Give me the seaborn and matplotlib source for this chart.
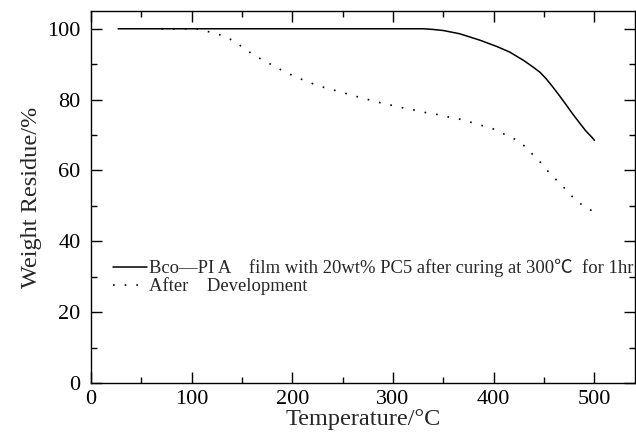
import numpy as np
import pandas as pd
import matplotlib
matplotlib.use('Agg')
import matplotlib.pyplot as plt
from matplotlib.ticker import MultipleLocator
import seaborn as sns

# TGA curves
cured_temp = [27, 100, 200, 300, 330, 340, 350, 366, 386, 403, 416, 430, 439,
              446, 452, 458, 465, 472, 478, 485, 491, 498, 500]
cured_wt = [100, 100, 100, 100, 100, 99.8, 99.5, 98.6, 96.8, 95, 93.4, 91, 89.2,
            87.7, 85.9, 83.8, 81.2, 78.5, 76.1, 73.5, 71.3, 69.2, 68.5]

dev_temp = [70, 105, 115, 126, 137, 148, 158, 168, 179, 190, 201, 212, 223, 234,
            245, 256, 266, 278, 289, 300, 311, 322, 333, 344, 355, 366, 376, 388,
            399, 410, 421, 431, 439, 447, 455, 463, 471, 479, 488, 500]
dev_wt = [100, 100, 99.3, 98.5, 97.3, 95.3, 93.3, 91.6, 89.9, 88.2, 86.7, 85.4,
          84.2, 83.2, 82.4, 81.5, 80.7, 79.8, 79.0, 78.3, 77.6, 77.0, 76.3, 75.8,
          75.1, 74.5, 73.7, 72.7, 71.8, 70.3, 68.8, 66.8, 64.4, 62.1, 59.4, 57.1,
          54.8, 52.3, 50.2, 48.2]

cured_label = 'Bco\u2014PI A    film with 20wt% PC5 after curing at 300\u2103  for 1hr'
dev_label = 'After    Development'

sns.set_style('ticks')
plt.rcParams['font.family'] = ['Liberation Serif', 'Noto Sans CJK SC', 'DejaVu Sans']
plt.rcParams['axes.linewidth'] = 1.0

fig = plt.figure(figsize=(6.36, 4.42), dpi=100)
ax = fig.add_axes([0.143, 0.1335, 0.855, 0.8415])

cured = pd.DataFrame({'temp': cured_temp, 'wt': cured_wt})
dev = pd.DataFrame({'temp': dev_temp, 'wt': dev_wt})

sns.lineplot(data=cured, x='temp', y='wt', color='black', linewidth=1.1,
             label=cured_label, ax=ax)
sns.lineplot(data=dev, x='temp', y='wt', color='black', linewidth=1.2,
             linestyle=(0, (1, 6)), label=dev_label, ax=ax)

ax.set_xlim(0, 540)
ax.set_ylim(0, 105)
ax.xaxis.set_major_locator(MultipleLocator(100))
ax.xaxis.set_minor_locator(MultipleLocator(50))
ax.yaxis.set_major_locator(MultipleLocator(20))
ax.yaxis.set_minor_locator(MultipleLocator(10))
ax.tick_params(which='both', direction='in', top=True, right=True,
               color='black', width=1.0, labelsize=16, labelcolor='black')
ax.tick_params(which='major', length=8)
ax.tick_params(which='minor', length=4.5)
ax.tick_params(axis='x', which='major', pad=5)
ax.tick_params(axis='y', which='major', pad=7.5)
for s in ax.spines.values():
    s.set_color('black')

ax.set_xlabel('Temperature/\u00b0C', fontsize=17.5, labelpad=0)
ax.set_ylabel('Weight Residue/%', fontsize=17.5, labelpad=4)

ax.legend(loc='center left', bbox_to_anchor=(0.04, 0.285), frameon=False,
          fontsize=13.4, handlelength=1.85, handletextpad=0.1, labelspacing=0.02,
          borderpad=0, borderaxespad=0)

fig.savefig('out.png', dpi=100)
